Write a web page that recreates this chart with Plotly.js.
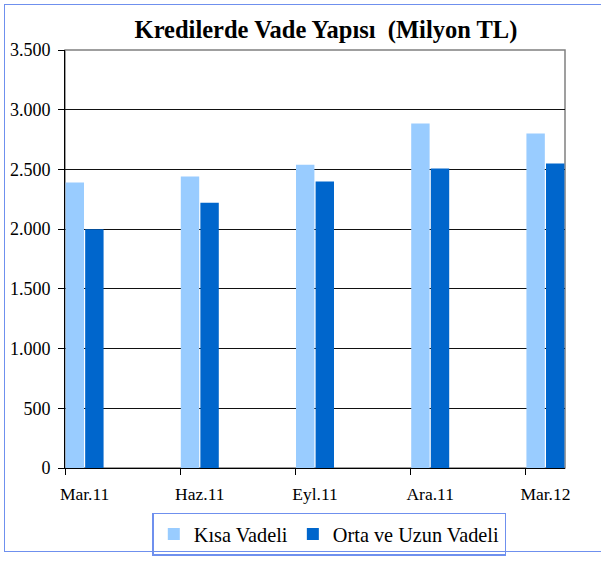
<!DOCTYPE html>
<html>
<head>
<meta charset="utf-8">
<script src="https://cdn.plot.ly/plotly-3.0.1.min.js"></script>
<style>
html,body{margin:0;padding:0;background:#fff;}
#wrap{position:relative;width:602px;height:563px;}
#chart{position:absolute;left:0;top:0;width:602px;height:563px;}
#frame{position:absolute;left:4px;top:4px;width:597px;height:548px;border:1.5px solid #6f90ee;border-right:none;pointer-events:none;box-sizing:border-box;}
</style>
</head>
<body>
<div id="wrap"><div id="chart"></div><div id="frame"></div></div>
<script>
const categories = ["Mar.11", "Haz.11", "Eyl.11", "Ara.11", "Mar.12"];
const kisaVadeli = [2390, 2440, 2540, 2885, 2800];
const ortaUzunVadeli = [2000, 2222, 2398, 2507, 2550];
const yTicks = [0, 500, 1000, 1500, 2000, 2500, 3000, 3500];

const pos = categories.map((c, i) => i);
const serif = "Liberation Serif";

const traces = [
  {type: "bar", name: "Kısa Vadeli", x: pos, y: kisaVadeli, marker: {color: "#99CCFF"}},
  {type: "bar", name: "Orta ve Uzun Vadeli", x: pos, y: ortaUzunVadeli, marker: {color: "#0066CC"}}
];

const layout = {
  width: 602, height: 563,
  margin: {l: 65, r: 37, t: 50, b: 95},
  paper_bgcolor: "#fff", plot_bgcolor: "#fff",
  separators: ",.",
  barmode: "group",
  bargap: 0.66,
  bargroupgap: 0.06,
  font: {family: serif, color: "#000"},
  title: {
    text: "Kredilerde Vade Yapısı\u00a0\u00a0(Milyon TL)",
    font: {family: serif, size: 24.5, color: "#000", weight: "bold"},
    xref: "container", x: 0.5415, xanchor: "center",
    yref: "container", y: 0.948, yanchor: "middle"
  },
  xaxis: {
    type: "linear",
    range: [-0.17, 4.17],
    tickvals: pos, ticktext: categories,
    ticks: "", showgrid: false, zeroline: false,
    showline: true, linecolor: "#000", linewidth: 1,
    ticklabelstandoff: 10,
    tickfont: {family: serif, size: 17.5, color: "#000"},
    minor: {tick0: -0.17, dtick: 1, ticks: "outside", ticklen: 6, tickcolor: "#000", showgrid: false}
  },
  yaxis: {
    range: [0, 3500],
    tickvals: yTicks,
    tickformat: ",d",
    ticks: "outside", ticklen: 6, tickcolor: "#000",
    showline: true, linecolor: "#000", linewidth: 1,
    showgrid: true, gridcolor: "#111", gridwidth: 1,
    zeroline: false,
    ticklabelstandoff: 4,
    tickfont: {family: serif, size: 18, color: "#000"}
  },
  shapes: [{
    type: "rect", xref: "paper", yref: "paper", x0: 0, x1: 1, y0: 0, y1: 1,
    line: {color: "#808080", width: 1.5}, layer: "below"
  }],
  showlegend: true,
  legend: {
    orientation: "h",
    xref: "container", yref: "container",
    x: 0.547, xanchor: "center", y: 0.051, yanchor: "middle",
    bordercolor: "#6f90ee", borderwidth: 1.5,
    font: {family: serif, size: 20.3, color: "#000"},
    itemwidth: 30, traceorder: "normal"
  }
};

Plotly.newPlot("chart", traces, layout, {staticPlot: true, displayModeBar: false});
</script>
</body>
</html>
